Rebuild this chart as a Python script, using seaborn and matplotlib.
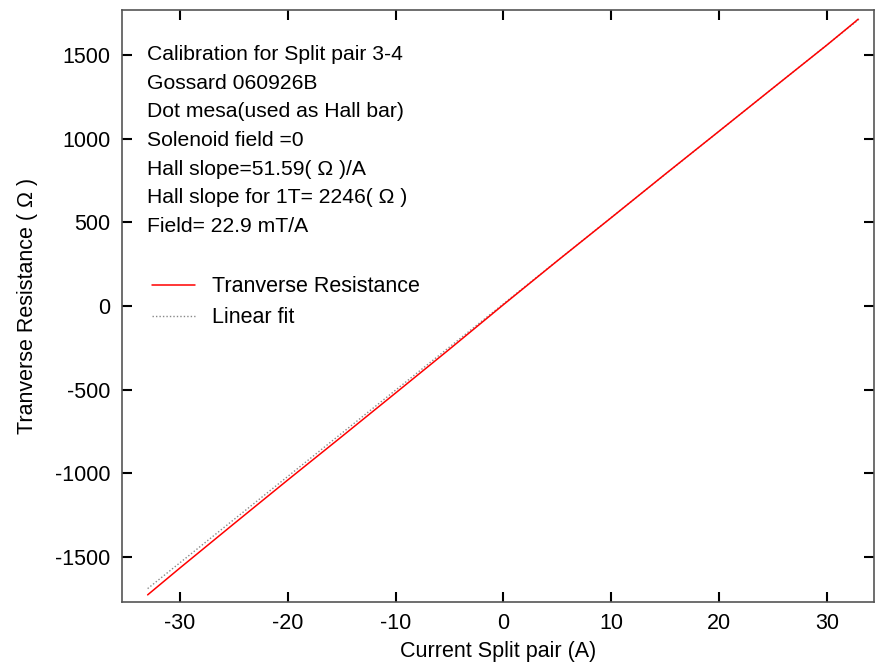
import numpy as np
import pandas as pd
import seaborn as sns
import matplotlib as mpl
mpl.use('Agg')
import matplotlib.pyplot as plt

# -----------------------------
# Data
# -----------------------------
current = [-33.0, -30, -25, -20, -15, -10, -5, 0, 5, 10, 15, 20, 25, 30, 32.6, 32.9]
resistance = [-1727, -1566, -1302, -1040, -781, -520, -258, 8, 270, 528, 788, 1045, 1303, 1560, 1698, 1715]

fit_x = [-33.0, 33.0]
fit_slope = 51.59
fit_intercept = 13

notes = ['Calibration for Split pair 3-4',
         'Gossard 060926B',
         'Dot mesa(used as Hall bar)',
         'Solenoid field =0',
         'Hall slope=51.59( \u03a9 )/A',
         'Hall slope for 1T= 2246( \u03a9 )',
         'Field= 22.9 mT/A']

data = pd.DataFrame({'current': current, 'resistance': resistance})
fit = pd.DataFrame({'current': fit_x,
                    'resistance': [fit_slope * x + fit_intercept for x in fit_x]})

# -----------------------------
# Plot
# -----------------------------
sns.set_theme(style='ticks')
plt.rcParams['font.family'] = ['Liberation Sans', 'DejaVu Sans']
plt.rcParams['axes.unicode_minus'] = False
for k in ['text.color', 'axes.labelcolor', 'xtick.color', 'ytick.color']:
    plt.rcParams[k] = 'black'

fig = plt.figure(figsize=(8.76, 6.66), dpi=100)
ax = fig.add_axes([0.139, 0.096, 0.859, 0.889])

sns.lineplot(data=fit, x='current', y='resistance', ax=ax, color='#888888',
             linestyle=(0, (1, 1.5)), linewidth=1.0, label='Linear fit', sort=False)
sns.lineplot(data=data, x='current', y='resistance', ax=ax, color='red',
             linewidth=1.1, label='Tranverse Resistance', sort=False)

ax.set_xlim(-35.4, 34.4)
ax.set_ylim(-1770, 1770)
ax.set_xticks([-30, -20, -10, 0, 10, 20, 30])
ax.set_yticks([-1500, -1000, -500, 0, 500, 1000, 1500])

for s in ax.spines.values():
    s.set_visible(True)
    s.set_color('#555555')
    s.set_linewidth(1.2)

ax.tick_params(direction='in', length=7, width=1.5, color='black', labelsize=15.5,
               top=True, right=True, pad=8)

ax.set_xlabel('Current Split pair (A)', fontsize=15.5, labelpad=5)
ax.set_ylabel('Tranverse Resistance ( \u03a9 )', fontsize=15.5, labelpad=12)

for i, line in enumerate(notes):
    ax.text(0.034, 0.925 - i * 0.0485, line, transform=ax.transAxes, fontsize=15.2,
            va='center', ha='left')

handles, labels = ax.get_legend_handles_labels()
ax.legend(handles[::-1], labels[::-1], loc='upper left', bbox_to_anchor=(0.04, 0.55),
          frameon=False, fontsize=15.5, handlelength=2.0, handletextpad=0.8,
          labelspacing=0.45, borderaxespad=0, borderpad=0)

fig.savefig('out.png', dpi=100)
